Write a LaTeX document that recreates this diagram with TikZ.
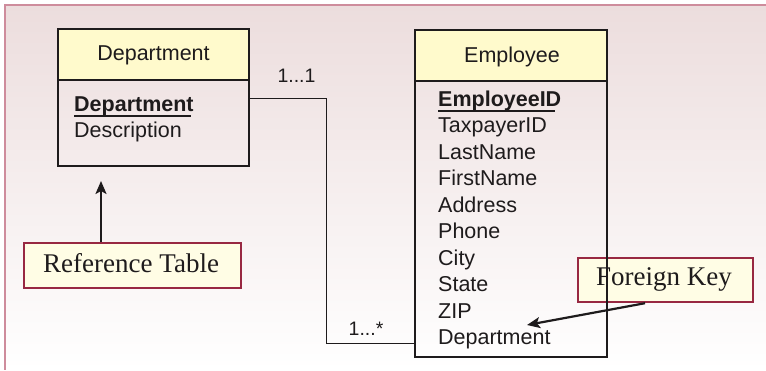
\documentclass[tikz,border=0pt]{standalone}
\usepackage{fontspec}
\setmainfont{Liberation Sans}
\newfontfamily\calloutfont{Liberation Serif}
\usetikzlibrary{arrows.meta}
\definecolor{bgtop}{RGB}{236,221,221}
\definecolor{framecol}{RGB}{206,140,156}
\definecolor{hdrfill}{RGB}{255,250,204}
\definecolor{callfill}{RGB}{255,253,229}
\definecolor{callline}{RGB}{152,40,66}
\definecolor{ink}{RGB}{30,27,28}
\begin{document}
\begin{tikzpicture}[x=1pt,y=-1pt,
  tbl/.style={draw=ink,line width=1.6pt,rectangle,inner sep=0pt},
  hdr/.style={tbl,fill=hdrfill},
  hdrtext/.style={anchor=base,inner sep=0pt,font=\fontsize{21.5}{26}\selectfont,text=ink},
  field/.style={anchor=base west,inner sep=0pt,font=\fontsize{21.5}{26}\selectfont,text=ink},
  keyfield/.style={field,font=\fontsize{21.5}{26}\selectfont\bfseries},
  keyline/.style={draw=ink,line width=1.4pt},
  mult/.style={anchor=base,inner sep=0pt,font=\fontsize{19.5}{23}\selectfont,text=ink},
  callout/.style={draw=callline,fill=callfill,line width=2.4pt,rectangle,inner sep=0pt},
  calltext/.style={anchor=base west,inner sep=0pt,font=\calloutfont\fontsize{27}{32}\selectfont,text=ink},
  link/.style={draw=ink,line width=1.3pt},
  pointer/.style={draw=ink,line width=2.2pt,-{Stealth[length=13pt,width=11pt,inset=3pt]}}]

\useasboundingbox (0,0) rectangle (766,370);
\shade[top color=bgtop,bottom color=white] (5,5) rectangle (766,370);
\draw[framecol,line width=2pt] (4,5) -- (766,5) (5,4) -- (5,370);

% callout behind Employee table
\node[callout,minimum width=175pt,minimum height=44pt] (fk) at (665.5,280) {};
\node[calltext] (fkt) at (596,285) {Foreign Key};

% Department table
\node[hdr,minimum width=191pt,minimum height=51pt] (dh) at (153.5,54.5) {};
\node[hdrtext] (dht) at (153.5,60) {Department};
\node[tbl,minimum width=191pt,minimum height=86pt] (db) at (153.5,123) {};
\node[keyfield] (d1) at (74,111) {Department};
\draw[keyline] ([yshift=-5pt]d1.base west) -- ++(117,0);
\node[field] (d2) at (74,137) {Description};

% Employee table
\node[hdr,minimum width=192pt,minimum height=51pt] (eh) at (511,55.5) {};
\node[hdrtext] (eht) at (512,62) {Employee};
\node[tbl,minimum width=192pt,minimum height=276pt] (eb) at (511,219) {};
\node[keyfield] (e1) at (438,106) {EmployeeID};
\draw[keyline] ([yshift=-5pt]e1.base west) -- ++(117,0);
\node[field] (e2) at (438,132.5) {TaxpayerID};
\node[field] (e3) at (438,159) {LastName};
\node[field] (e4) at (438,185.5) {FirstName};
\node[field] (e5) at (438,212) {Address};
\node[field] (e6) at (438,238.5) {Phone};
\node[field] (e7) at (438,265) {City};
\node[field] (e8) at (438,291.5) {State};
\node[field] (e9) at (438,318) {ZIP};
\node[field] (e10) at (438,344.5) {Department};

% relationship
\draw[link] ([yshift=-19pt]db.north east) -- ++(77,0) |- ([yshift=14pt]eb.south west);
\node[mult] (m1) at (296.5,82) {1...1};
\node[mult] (m2) at (366,335) {1...*};

% Reference Table callout
\node[callout,minimum width=217pt,minimum height=45pt] (rt) at (132.5,265.5) {};
\node[calltext] (rtt) at (43,272) {Reference Table};

% pointers
\coordinate (rtip) at (101,181);
\draw[pointer] (rt.north -| rtip) -- (rtip);
\coordinate (fktip) at (527,325);
\draw[pointer] ([xshift=-20.5pt]fk.south) -- (fktip);
\end{tikzpicture}
\end{document}
